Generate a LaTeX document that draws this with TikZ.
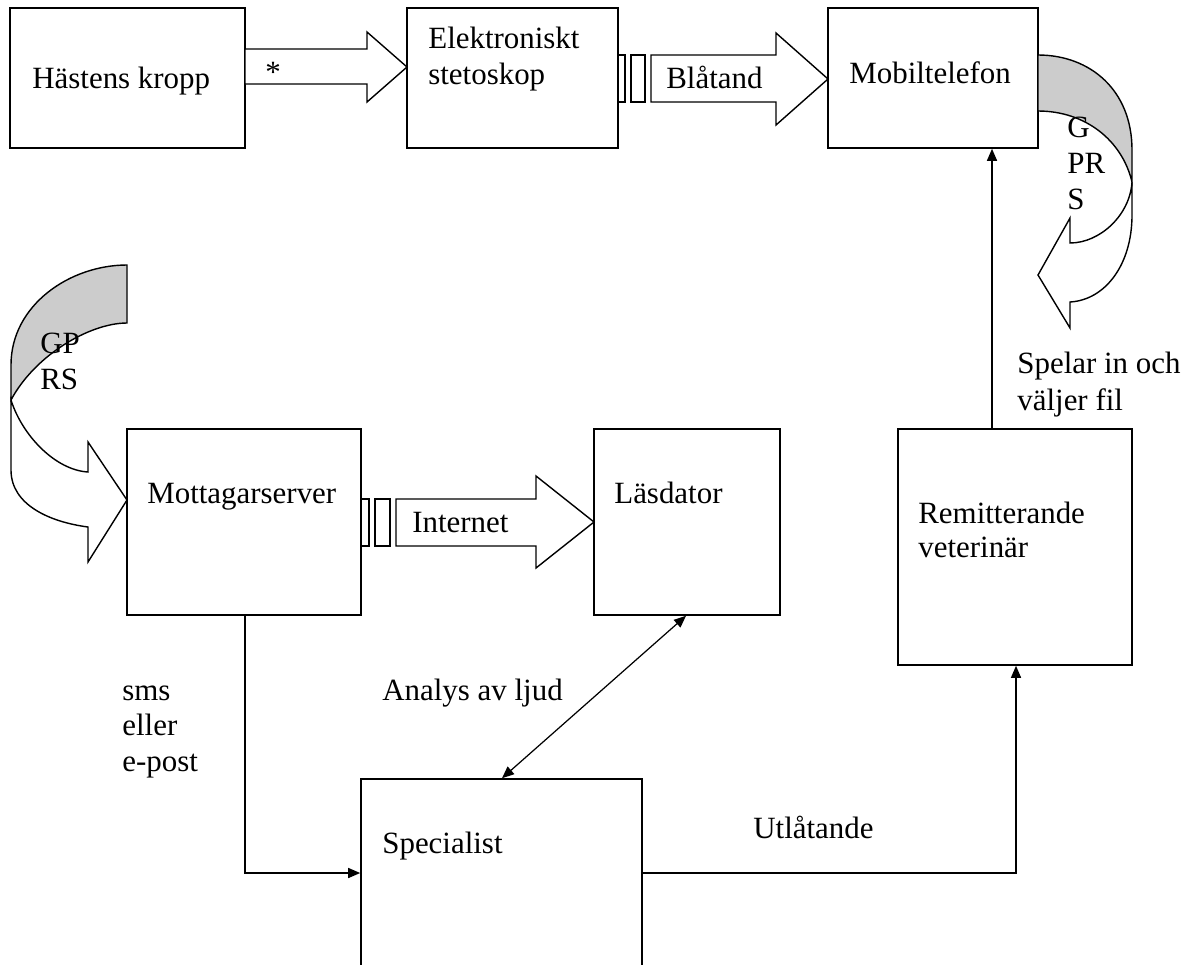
\documentclass[tikz,border=0pt]{standalone}
\usepackage{fontspec}
\setmainfont{Liberation Serif}
\usetikzlibrary{arrows.meta,fit,calc}
\begin{document}
\begin{tikzpicture}[x=0.02cm,y=-0.02cm,
  box/.style={draw,line width=0.9pt,inner sep=0pt},
  lbl/.style={anchor=base west,inner sep=0pt,font=\fontsize{17.6pt}{20pt}\selectfont},
  tip/.style={Triangle[length=0.24cm,width=0.2cm]},
  conn/.style={line width=0.8pt,-{Triangle[length=0.24cm,width=0.2cm]}},
  dconn/.style={line width=0.7pt,{Triangle[length=0.24cm,width=0.2cm]}-{Triangle[length=0.24cm,width=0.2cm]}},
  barrow/.style={draw,line width=0.8pt,fill=white,line join=miter},
  band/.style={draw,line width=0.8pt,fill=black!20}]
\useasboundingbox (0,0) rectangle (1192,964);
\clip (0,0) rectangle (1192,964);

% boxes
\node[box,fit={(10,8) (245,148)}] (hk) {};
\node[box,fit={(407,8) (618,148)}] (es) {};
\node[box,fit={(828,8) (1038,148)}] (mt) {};
\node[box,fit={(127,429) (361,615)}] (ms) {};
\node[box,fit={(594,429) (780,615)}] (ld) {};
\node[box,fit={(898,429) (1132,665)}] (rv) {};
\node[box,fit={(361,779) (642,995)}] (sp) {};

% block arrow: Hästens kropp -> stetoskop
\path[barrow] (245,49) -- (367,49) -- (367,32) -- (407,67) -- (367,102) -- (367,84) -- (245,84) -- cycle;
% block arrow: Blåtand
\path[barrow] (618,55) rectangle (625,102);
\path[barrow] (631,55) rectangle (645,102);
\path[barrow] (651,55) -- (776,55) -- (776,33) -- (828,79) -- (776,125) -- (776,102) -- (651,102) -- cycle;
% block arrow: Internet
\path[barrow] (361,499) rectangle (369,546);
\path[barrow] (375,499) rectangle (390,546);
\path[barrow] (396,499) -- (536,499) -- (536,476) -- (594,522) -- (536,568) -- (536,546) -- (396,546) -- cycle;

% curved arrow right (GPRS)
\path[band] (1038,55) .. controls (1090,55) and (1132,90) .. (1132,150) -- (1132,182)
  .. controls (1122,140) and (1085,111) .. (1038,111) -- cycle;
\path[barrow] (1132,182) .. controls (1130,215) and (1100,243) .. (1070,243) -- (1070,218)
  -- (1038,275) -- (1070,328) -- (1070,302) .. controls (1105,300) and (1132,265) .. (1132,215) -- cycle;

% curved arrow left (GPRS)
\path[band] (127,265) .. controls (70,265) and (11,305) .. (11,365) -- (11,400)
  .. controls (35,355) and (90,323) .. (127,323) -- cycle;
\path[barrow] (11,400) .. controls (22,435) and (55,470) .. (88,472) -- (88,442)
  -- (127,500) -- (88,562) -- (88,527) .. controls (50,522) and (11,505) .. (11,470) -- cycle;

% connectors
\draw[conn] (992,0 |- rv.north) -- (992,0 |- mt.south);
\draw[conn] (245,0 |- ms.south) |- (sp.west |- 0,873);
\draw[conn] (sp.east |- 0,873) -| (1016,0 |- rv.south);
\draw[dconn] (502,0 |- sp.north) -- (686,0 |- ld.south);

% labels
\node[lbl] (t1) at (32,88) {Hästens kropp};
\node[lbl] (t2) at (265,82) {*};
\node[lbl] (t3) at (428,48) {Elektroniskt};
\node[lbl] (t4) at (428,84) {stetoskop};
\node[lbl] (t5) at (666,88) {Blåtand};
\node[lbl] (t6) at (849,83) {Mobiltelefon};
\node[lbl] (t7) at (1067,137) {G};
\node[lbl] (t8) at (1067,173) {PR};
\node[lbl] (t9) at (1067,209) {S};
\node[lbl] (t10) at (1017,373) {Spelar in och};
\node[lbl] (t11) at (1017,410) {väljer fil};
\node[lbl] (t12) at (40,353) {GP};
\node[lbl] (t13) at (40,389) {RS};
\node[lbl] (t14) at (147,503) {Mottagarserver};
\node[lbl] (t15) at (412,532) {Internet};
\node[lbl] (t16) at (614,503) {Läsdator};
\node[lbl] (t17) at (918,523) {Remitterande};
\node[lbl] (t18) at (918,557) {veterinär};
\node[lbl] (t19) at (122,700) {sms};
\node[lbl] (t20) at (122,735) {eller};
\node[lbl] (t21) at (122,771) {e-post};
\node[lbl] (t22) at (382,700) {Analys av ljud};
\node[lbl] (t23) at (382,853) {Specialist};
\node[lbl] (t24) at (753,838) {Utlåtande};
\end{tikzpicture}
\end{document}
